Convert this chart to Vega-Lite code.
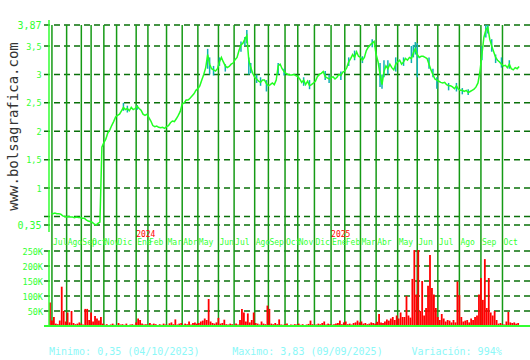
{
  "$schema": "https://vega.github.io/schema/vega-lite/v6.json",
  "width": 486,
  "height": 306,
  "autosize": {"type": "none"},
  "padding": {"left": 44, "top": 20, "right": 0, "bottom": 34},
  "background": "white",
  "config": {"view": {"stroke": null}, "font": "DejaVu Sans Mono"},
  "datasets": {
    "meses": [
      {"t": 3, "mes": "Jul"}, {"t": 18, "mes": "Ago"}, {"t": 33, "mes": "Sep"}, {"t": 43, "mes": "Oct"},
      {"t": 56, "mes": "Nov"}, {"t": 69, "mes": "Dic"}, {"t": 89, "mes": "Ene"}, {"t": 101, "mes": "Feb"},
      {"t": 120, "mes": "Mar"}, {"t": 136, "mes": "Abr"}, {"t": 152, "mes": "May"}, {"t": 173, "mes": "Jun"},
      {"t": 189, "mes": "Jul"}, {"t": 210, "mes": "Ago"}, {"t": 224, "mes": "Sep"}, {"t": 241, "mes": "Oct"},
      {"t": 254, "mes": "Nov"}, {"t": 271, "mes": "Dic"}, {"t": 288, "mes": "Ene"}, {"t": 302, "mes": "Feb"},
      {"t": 318, "mes": "Mar"}, {"t": 334, "mes": "Abr"}, {"t": 356, "mes": "May"}, {"t": 376, "mes": "Jun"},
      {"t": 397, "mes": "Jul"}, {"t": 419, "mes": "Ago"}, {"t": 441, "mes": "Sep"}, {"t": 463, "mes": "Oct"}
    ],
    "anios": [{"t": 89, "anio": "2024"}, {"t": 288, "anio": "2025"}],
    "rejilla_precio": [{"p": 3.87}, {"p": 3.5}, {"p": 3}, {"p": 2.5}, {"p": 2}, {"p": 1.5}, {"p": 1}, {"p": 0.5}, {"p": 0.35}],
    "rejilla_vol": [{"v": 50}, {"v": 100}, {"v": 150}, {"v": 200}, {"v": 250}],
    "pie": [
      {"t": 0, "texto": "Minimo: 0,35 (04/10/2023)"},
      {"t": 187, "texto": "Maximo: 3,83 (09/09/2025)"},
      {"t": 370, "texto": "Variación: 994%"}
    ],
    "cierre": [
      {"t":2,"c":0.55},{"t":4,"c":0.55},{"t":6,"c":0.56},{"t":8,"c":0.55},{"t":10,"c":0.55},{"t":12,"c":0.54},{"t":14,"c":0.51},{"t":16,"c":0.50},
      {"t":18,"c":0.49},{"t":20,"c":0.50},{"t":22,"c":0.49},{"t":24,"c":0.49},{"t":26,"c":0.48},{"t":28,"c":0.49},{"t":30,"c":0.48},{"t":32,"c":0.48},
      {"t":34,"c":0.47},{"t":36,"c":0.47},{"t":38,"c":0.44},{"t":40,"c":0.42},{"t":42,"c":0.41},{"t":44,"c":0.40},{"t":46,"c":0.37},{"t":48,"c":0.35},
      {"t":50,"c":0.38},{"t":52,"c":0.40},{"t":54,"c":1.72},{"t":56,"c":1.80},{"t":58,"c":1.86},{"t":60,"c":1.97},{"t":62,"c":2.02},{"t":64,"c":2.10},
      {"t":66,"c":2.17},{"t":68,"c":2.25},{"t":70,"c":2.28},{"t":72,"c":2.30},{"t":74,"c":2.36},{"t":76,"c":2.42},{"t":78,"c":2.38},{"t":80,"c":2.40},
      {"t":82,"c":2.36},{"t":84,"c":2.42},{"t":86,"c":2.38},{"t":88,"c":2.40},{"t":90,"c":2.44},{"t":92,"c":2.40},{"t":94,"c":2.37},{"t":96,"c":2.30},
      {"t":98,"c":2.28},{"t":100,"c":2.30},{"t":102,"c":2.24},{"t":104,"c":2.18},{"t":106,"c":2.10},{"t":108,"c":2.08},{"t":110,"c":2.09},{"t":112,"c":2.07},
      {"t":114,"c":2.06},{"t":116,"c":2.07},{"t":118,"c":2.05},{"t":120,"c":2.08},{"t":122,"c":2.10},{"t":124,"c":2.15},{"t":126,"c":2.18},{"t":128,"c":2.17},
      {"t":130,"c":2.22},{"t":132,"c":2.28},{"t":134,"c":2.35},{"t":136,"c":2.48},{"t":138,"c":2.50},{"t":140,"c":2.55},{"t":142,"c":2.55},{"t":144,"c":2.58},
      {"t":146,"c":2.62},{"t":148,"c":2.66},{"t":150,"c":2.72},{"t":152,"c":2.75},{"t":154,"c":2.80},{"t":156,"c":2.90},{"t":158,"c":3.00},{"t":160,"c":3.12},
      {"t":162,"c":3.35},{"t":164,"c":3.18},{"t":166,"c":3.10},{"t":168,"c":3.08},{"t":170,"c":3.06},{"t":172,"c":3.10},{"t":174,"c":3.22},{"t":176,"c":3.30},
      {"t":178,"c":3.22},{"t":180,"c":3.15},{"t":182,"c":3.12},{"t":184,"c":3.14},{"t":186,"c":3.18},{"t":188,"c":3.20},{"t":190,"c":3.26},{"t":192,"c":3.30},
      {"t":194,"c":3.42},{"t":196,"c":3.52},{"t":198,"c":3.55},{"t":200,"c":3.62},{"t":202,"c":3.68},{"t":204,"c":3.25},{"t":206,"c":3.12},{"t":208,"c":3.02},
      {"t":210,"c":2.95},{"t":212,"c":2.92},{"t":214,"c":2.88},{"t":216,"c":2.86},{"t":218,"c":2.90},{"t":220,"c":2.90},{"t":222,"c":2.84},{"t":224,"c":2.80},
      {"t":226,"c":2.82},{"t":228,"c":2.85},{"t":230,"c":2.82},{"t":232,"c":2.90},{"t":234,"c":3.15},{"t":236,"c":3.18},{"t":238,"c":3.10},{"t":240,"c":3.05},
      {"t":242,"c":3.02},{"t":244,"c":3.00},{"t":246,"c":2.99},{"t":248,"c":2.99},{"t":250,"c":3.00},{"t":252,"c":2.98},{"t":254,"c":2.96},{"t":256,"c":2.92},
      {"t":258,"c":2.86},{"t":260,"c":2.90},{"t":262,"c":2.82},{"t":264,"c":2.88},{"t":266,"c":2.80},{"t":268,"c":2.82},{"t":270,"c":2.85},{"t":272,"c":2.88},
      {"t":274,"c":2.96},{"t":276,"c":3.00},{"t":278,"c":3.02},{"t":280,"c":3.05},{"t":282,"c":2.96},{"t":284,"c":2.94},{"t":286,"c":2.92},{"t":288,"c":2.94},
      {"t":290,"c":2.96},{"t":292,"c":2.92},{"t":294,"c":2.95},{"t":296,"c":3.00},{"t":298,"c":2.98},{"t":300,"c":3.04},{"t":302,"c":3.06},{"t":304,"c":3.12},
      {"t":306,"c":3.22},{"t":308,"c":3.28},{"t":310,"c":3.35},{"t":312,"c":3.30},{"t":314,"c":3.40},{"t":316,"c":3.32},{"t":318,"c":3.30},{"t":320,"c":3.25},
      {"t":322,"c":3.30},{"t":324,"c":3.42},{"t":326,"c":3.48},{"t":328,"c":3.52},{"t":330,"c":3.55},{"t":332,"c":3.58},{"t":334,"c":3.35},{"t":336,"c":3.22},
      {"t":338,"c":3.00},{"t":340,"c":2.82},{"t":342,"c":3.05},{"t":344,"c":3.15},{"t":346,"c":3.10},{"t":348,"c":3.18},{"t":350,"c":3.12},{"t":352,"c":3.08},
      {"t":354,"c":3.18},{"t":356,"c":3.22},{"t":358,"c":3.25},{"t":360,"c":3.18},{"t":362,"c":3.22},{"t":364,"c":3.28},{"t":366,"c":3.25},{"t":368,"c":3.30},
      {"t":370,"c":3.28},{"t":372,"c":3.38},{"t":374,"c":3.45},{"t":376,"c":3.35},{"t":378,"c":3.30},{"t":380,"c":3.32},{"t":382,"c":3.32},{"t":384,"c":3.30},
      {"t":386,"c":3.28},{"t":388,"c":3.18},{"t":390,"c":3.08},{"t":392,"c":3.00},{"t":394,"c":2.92},{"t":396,"c":2.90},{"t":398,"c":2.88},{"t":400,"c":2.86},
      {"t":402,"c":2.85},{"t":404,"c":2.86},{"t":406,"c":2.82},{"t":408,"c":2.80},{"t":410,"c":2.80},{"t":412,"c":2.78},{"t":414,"c":2.75},{"t":416,"c":2.80},
      {"t":418,"c":2.74},{"t":420,"c":2.72},{"t":422,"c":2.72},{"t":424,"c":2.70},{"t":426,"c":2.72},{"t":428,"c":2.68},{"t":430,"c":2.70},{"t":432,"c":2.72},
      {"t":434,"c":2.74},{"t":436,"c":2.78},{"t":438,"c":2.85},{"t":440,"c":3.05},{"t":442,"c":3.35},{"t":444,"c":3.65},{"t":446,"c":3.78},{"t":448,"c":3.83},
      {"t":450,"c":3.62},{"t":452,"c":3.50},{"t":454,"c":3.40},{"t":456,"c":3.30},{"t":458,"c":3.25},{"t":460,"c":3.22},{"t":462,"c":3.18},{"t":464,"c":3.15},
      {"t":466,"c":3.16},{"t":468,"c":3.12},{"t":470,"c":3.18},{"t":472,"c":3.10},{"t":474,"c":3.08},{"t":476,"c":3.12},{"t":478,"c":3.10},{"t":480,"c":3.14}
    ],
    "rango": [
      {"t":76,"l":2.36,"h":2.50},{"t":80,"l":2.33,"h":2.45},{"t":90,"l":2.38,"h":2.46},
      {"t":162,"l":3.10,"h":3.45},{"t":164,"l":3.00,"h":3.30},{"t":168,"l":2.98,"h":3.15},{"t":174,"l":3.15,"h":3.30},{"t":180,"l":3.05,"h":3.18},
      {"t":196,"l":3.40,"h":3.58},{"t":200,"l":3.50,"h":3.66},{"t":202,"l":3.55,"h":3.78},{"t":204,"l":3.00,"h":3.30},{"t":206,"l":3.02,"h":3.20},
      {"t":212,"l":2.85,"h":3.00},{"t":216,"l":2.80,"h":2.95},{"t":222,"l":2.70,"h":2.90},{"t":234,"l":3.00,"h":3.20},{"t":240,"l":2.98,"h":3.10},
      {"t":260,"l":2.80,"h":2.95},{"t":266,"l":2.74,"h":2.90},{"t":282,"l":2.90,"h":3.06},{"t":286,"l":2.85,"h":3.00},{"t":298,"l":2.90,"h":3.05},
      {"t":306,"l":3.15,"h":3.30},{"t":312,"l":3.25,"h":3.42},{"t":320,"l":3.20,"h":3.32},{"t":330,"l":3.48,"h":3.62},
      {"t":338,"l":2.78,"h":3.20},{"t":340,"l":2.75,"h":3.00},{"t":342,"l":2.95,"h":3.25},{"t":346,"l":3.00,"h":3.25},
      {"t":354,"l":3.05,"h":3.30},{"t":362,"l":3.15,"h":3.30},{"t":370,"l":3.20,"h":3.50},{"t":372,"l":3.30,"h":3.52},{"t":374,"l":3.35,"h":3.57},{"t":376,"l":2.95,"h":3.55},
      {"t":388,"l":3.10,"h":3.30},{"t":392,"l":2.95,"h":3.10},{"t":396,"l":2.75,"h":2.95},{"t":408,"l":2.72,"h":2.85},{"t":416,"l":2.70,"h":2.85},
      {"t":422,"l":2.65,"h":2.76},{"t":428,"l":2.64,"h":2.74},{"t":442,"l":3.25,"h":3.50},{"t":446,"l":3.65,"h":3.87},{"t":448,"l":3.72,"h":3.87},
      {"t":452,"l":3.40,"h":3.62},{"t":456,"l":3.20,"h":3.35},{"t":462,"l":3.12,"h":3.30},{"t":470,"l":3.10,"h":3.25}
    ],
    "volumen": [
      {"t":1,"k":78},{"t":3,"k":18},{"t":5,"k":30},{"t":7,"k":8},{"t":9,"k":6},{"t":11,"k":18},{"t":13,"k":131},{"t":15,"k":50},{"t":17,"k":15},{"t":19,"k":45},
      {"t":21,"k":12},{"t":23,"k":50},{"t":25,"k":10},{"t":27,"k":6},{"t":29,"k":8},{"t":31,"k":12},{"t":33,"k":8},{"t":35,"k":5},{"t":37,"k":57},{"t":39,"k":57},
      {"t":41,"k":20},{"t":43,"k":45},{"t":45,"k":15},{"t":47,"k":33},{"t":49,"k":25},{"t":51,"k":18},{"t":53,"k":30},{"t":55,"k":8},{"t":57,"k":4},{"t":59,"k":6},
      {"t":61,"k":3},{"t":63,"k":5},{"t":65,"k":8},{"t":67,"k":4},{"t":69,"k":3},{"t":71,"k":10},{"t":73,"k":5},{"t":75,"k":6},{"t":77,"k":4},{"t":79,"k":8},
      {"t":81,"k":3},{"t":83,"k":5},{"t":85,"k":6},{"t":87,"k":4},{"t":89,"k":12},{"t":91,"k":25},{"t":93,"k":20},{"t":95,"k":8},{"t":97,"k":5},{"t":99,"k":6},
      {"t":101,"k":4},{"t":103,"k":10},{"t":105,"k":5},{"t":107,"k":8},{"t":109,"k":6},{"t":111,"k":3},{"t":113,"k":6},{"t":115,"k":4},{"t":117,"k":8},{"t":119,"k":5},
      {"t":121,"k":4},{"t":123,"k":9},{"t":125,"k":12},{"t":127,"k":6},{"t":129,"k":22},{"t":131,"k":5},{"t":133,"k":8},{"t":135,"k":10},{"t":137,"k":4},{"t":139,"k":8},
      {"t":141,"k":6},{"t":143,"k":15},{"t":145,"k":5},{"t":147,"k":10},{"t":149,"k":12},{"t":151,"k":8},{"t":153,"k":10},{"t":155,"k":15},{"t":157,"k":18},{"t":159,"k":25},
      {"t":161,"k":20},{"t":163,"k":90},{"t":165,"k":15},{"t":167,"k":10},{"t":169,"k":8},{"t":171,"k":12},{"t":173,"k":27},{"t":175,"k":8},{"t":177,"k":10},{"t":179,"k":21},
      {"t":181,"k":6},{"t":183,"k":5},{"t":185,"k":8},{"t":187,"k":6},{"t":189,"k":4},{"t":191,"k":8},{"t":193,"k":5},{"t":195,"k":20},{"t":197,"k":57},{"t":199,"k":45},
      {"t":201,"k":15},{"t":203,"k":42},{"t":205,"k":12},{"t":207,"k":20},{"t":209,"k":45},{"t":211,"k":10},{"t":213,"k":8},{"t":215,"k":5},{"t":217,"k":15},{"t":219,"k":8},
      {"t":221,"k":6},{"t":223,"k":68},{"t":225,"k":57},{"t":227,"k":8},{"t":229,"k":6},{"t":231,"k":10},{"t":233,"k":6},{"t":235,"k":22},{"t":237,"k":5},{"t":239,"k":4},
      {"t":241,"k":6},{"t":243,"k":8},{"t":245,"k":3},{"t":247,"k":5},{"t":249,"k":4},{"t":251,"k":6},{"t":253,"k":5},{"t":255,"k":8},{"t":257,"k":4},{"t":259,"k":6},
      {"t":261,"k":3},{"t":263,"k":5},{"t":265,"k":7},{"t":267,"k":18},{"t":269,"k":6},{"t":271,"k":4},{"t":273,"k":5},{"t":275,"k":8},{"t":277,"k":6},{"t":279,"k":10},
      {"t":281,"k":15},{"t":283,"k":5},{"t":285,"k":8},{"t":287,"k":6},{"t":289,"k":4},{"t":291,"k":6},{"t":293,"k":8},{"t":295,"k":10},{"t":297,"k":18},{"t":299,"k":6},
      {"t":301,"k":12},{"t":303,"k":15},{"t":305,"k":6},{"t":307,"k":8},{"t":309,"k":5},{"t":311,"k":10},{"t":313,"k":12},{"t":315,"k":18},{"t":317,"k":12},{"t":319,"k":15},
      {"t":321,"k":8},{"t":323,"k":10},{"t":325,"k":6},{"t":327,"k":8},{"t":329,"k":12},{"t":331,"k":10},{"t":333,"k":8},{"t":335,"k":14},{"t":337,"k":40},{"t":339,"k":12},
      {"t":341,"k":10},{"t":343,"k":15},{"t":345,"k":22},{"t":347,"k":18},{"t":349,"k":25},{"t":351,"k":30},{"t":353,"k":20},{"t":355,"k":35},{"t":357,"k":25},{"t":359,"k":45},
      {"t":361,"k":30},{"t":363,"k":30},{"t":365,"k":100},{"t":367,"k":35},{"t":369,"k":28},{"t":371,"k":157},{"t":373,"k":253},{"t":375,"k":105},{"t":377,"k":253},{"t":379,"k":50},
      {"t":381,"k":150},{"t":383,"k":35},{"t":385,"k":60},{"t":387,"k":134},{"t":389,"k":237},{"t":391,"k":127},{"t":393,"k":105},{"t":395,"k":60},{"t":397,"k":30},{"t":399,"k":20},
      {"t":401,"k":40},{"t":403,"k":25},{"t":405,"k":15},{"t":407,"k":20},{"t":409,"k":18},{"t":411,"k":12},{"t":413,"k":20},{"t":415,"k":12},{"t":417,"k":148},{"t":419,"k":103},
      {"t":421,"k":30},{"t":423,"k":15},{"t":425,"k":18},{"t":427,"k":20},{"t":429,"k":12},{"t":431,"k":25},{"t":433,"k":20},{"t":435,"k":30},{"t":437,"k":35},{"t":439,"k":105},
      {"t":441,"k":160},{"t":443,"k":87},{"t":445,"k":223},{"t":447,"k":60},{"t":449,"k":160},{"t":451,"k":45},{"t":453,"k":35},{"t":455,"k":50},{"t":457,"k":20},{"t":459,"k":8},
      {"t":461,"k":10},{"t":463,"k":6},{"t":465,"k":5},{"t":467,"k":15},{"t":469,"k":47},{"t":471,"k":12},{"t":473,"k":10},{"t":475,"k":12},{"t":477,"k":8},{"t":479,"k":10}
    ]
  },
  "layer": [
    {
      "data": {"name": "rejilla_precio"},
      "mark": {"type": "rule", "color": "#0a700a", "strokeWidth": 1.5, "strokeDash": [6, 4]},
      "encoding": {
        "y": {
          "field": "p", "type": "quantitative",
          "scale": {"domain": [-1.4275, 3.958], "nice": false, "zero": false},
          "axis": {
            "orient": "left",
            "values": [0.35, 1, 1.5, 2, 2.5, 3, 3.5, 3.87],
            "labelExpr": "replace(format(datum.value, '.2~f'), '.', ',')",
            "domain": false, "ticks": false, "grid": false,
            "labelPadding": 3, "labelColor": "#33ff33", "labelFont": "DejaVu Sans Mono",
            "labelFontSize": {"condition": {"test": "datum.value == 3.87 || datum.value == 0.35", "value": 10}, "value": 8.5},
            "labelOverlap": false, "labelFlush": false,
            "title": "www.bolsagrafica.com",
            "titleFont": "DejaVu Sans Mono", "titleFontSize": 14, "titleFontWeight": "normal",
            "titleColor": "#333333", "titleAngle": 270, "titleAlign": "center", "titleBaseline": "alphabetic",
            "titleX": -27, "titleY": 106
          }
        }
      }
    },
    {
      "data": {"name": "rejilla_vol"},
      "mark": {"type": "rule", "color": "#0a700a", "strokeWidth": 1.5, "strokeDash": [6, 4]},
      "encoding": {
        "y": {
          "field": "v", "type": "quantitative",
          "scale": {"domain": [0, 1020], "nice": false, "zero": false},
          "axis": {
            "orient": "left",
            "values": [50, 100, 150, 200, 250],
            "labelExpr": "datum.value + 'K'",
            "domain": false, "ticks": false, "grid": false,
            "labelPadding": 1.5, "labelColor": "#33ff33", "labelFont": "DejaVu Sans Mono", "labelFontSize": 8.5,
            "labelOverlap": false, "labelFlush": false,
            "title": null
          }
        }
      }
    },
    {
      "data": {"name": "meses"},
      "mark": {"type": "rule", "color": "#159a15", "strokeWidth": 1.5},
      "encoding": {
        "x": {"field": "t", "type": "quantitative", "scale": {"domain": [0, 486], "nice": false, "zero": false}, "axis": null},
        "y": {"datum": 3.87, "type": "quantitative", "scale": {"domain": [-1.4275, 3.958], "nice": false, "zero": false}, "axis": null},
        "y2": {"datum": -1.4275}
      }
    },
    {
      "data": {"name": "volumen"},
      "mark": {"type": "bar", "color": "#ff0000", "size": 1.8},
      "encoding": {
        "x": {"field": "t", "type": "quantitative", "axis": null},
        "y": {"field": "k", "type": "quantitative", "scale": {"domain": [0, 1020], "nice": false, "zero": false}, "axis": null}
      }
    },
    {
      "data": {"name": "rango"},
      "mark": {"type": "rule", "color": "#10b0b4", "strokeWidth": 1.5},
      "encoding": {
        "x": {"field": "t", "type": "quantitative", "axis": null},
        "y": {"field": "l", "type": "quantitative", "scale": {"domain": [-1.4275, 3.958], "nice": false, "zero": false}, "axis": null},
        "y2": {"field": "h"}
      }
    },
    {
      "data": {"name": "cierre"},
      "mark": {"type": "line", "color": "#22ff22", "strokeWidth": 1.5},
      "encoding": {
        "x": {"field": "t", "type": "quantitative", "axis": null},
        "y": {"field": "c", "type": "quantitative", "scale": {"domain": [-1.4275, 3.958], "nice": false, "zero": false}, "axis": null}
      }
    },
    {
      "data": {"values": [{"a": 1}]},
      "mark": {"type": "rule", "color": "#33ff33", "strokeWidth": 1.5},
      "encoding": {
        "x": {"datum": 0, "type": "quantitative", "axis": null},
        "y": {"datum": 3.958, "type": "quantitative", "scale": {"domain": [-1.4275, 3.958], "nice": false, "zero": false}, "axis": null},
        "y2": {"datum": 0.227}
      }
    },
    {
      "data": {"values": [{"a": 1}]},
      "mark": {"type": "rule", "color": "#33ff33", "strokeWidth": 1.5},
      "encoding": {
        "x": {"datum": 0, "type": "quantitative", "axis": null},
        "y": {"datum": 253, "type": "quantitative", "scale": {"domain": [0, 1020], "nice": false, "zero": false}, "axis": null},
        "y2": {"datum": 0}
      }
    },
    {
      "data": {"values": [{"a": 1}]},
      "mark": {"type": "rule", "color": "#33ff33", "strokeWidth": 2},
      "encoding": {
        "y": {"datum": 0, "type": "quantitative", "scale": {"domain": [0, 1020], "nice": false, "zero": false}, "axis": null}
      }
    },
    {
      "data": {"name": "meses"},
      "mark": {"type": "text", "color": "#33ff33", "font": "DejaVu Sans Mono", "fontSize": 8, "align": "left", "baseline": "middle", "dx": 1},
      "encoding": {
        "x": {"field": "t", "type": "quantitative", "axis": null},
        "y": {"datum": 0.033, "type": "quantitative", "scale": {"domain": [-1.4275, 3.958], "nice": false, "zero": false}, "axis": null},
        "text": {"field": "mes"}
      }
    },
    {
      "data": {"name": "anios"},
      "mark": {"type": "text", "color": "#ff0000", "font": "DejaVu Sans Mono", "fontSize": 8, "align": "left", "baseline": "middle"},
      "encoding": {
        "x": {"field": "t", "type": "quantitative", "axis": null},
        "y": {"datum": 0.174, "type": "quantitative", "scale": {"domain": [-1.4275, 3.958], "nice": false, "zero": false}, "axis": null},
        "text": {"field": "anio"}
      }
    },
    {
      "data": {"name": "pie"},
      "mark": {"type": "text", "color": "#8cf8f8", "font": "DejaVu Sans Mono", "fontSize": 10, "align": "left", "baseline": "middle"},
      "encoding": {
        "x": {"field": "t", "type": "quantitative", "axis": null},
        "y": {"datum": -86.7, "type": "quantitative", "scale": {"domain": [0, 1020], "nice": false, "zero": false}, "axis": null},
        "text": {"field": "texto"}
      }
    }
  ],
  "resolve": {"scale": {"y": "independent"}}
}
